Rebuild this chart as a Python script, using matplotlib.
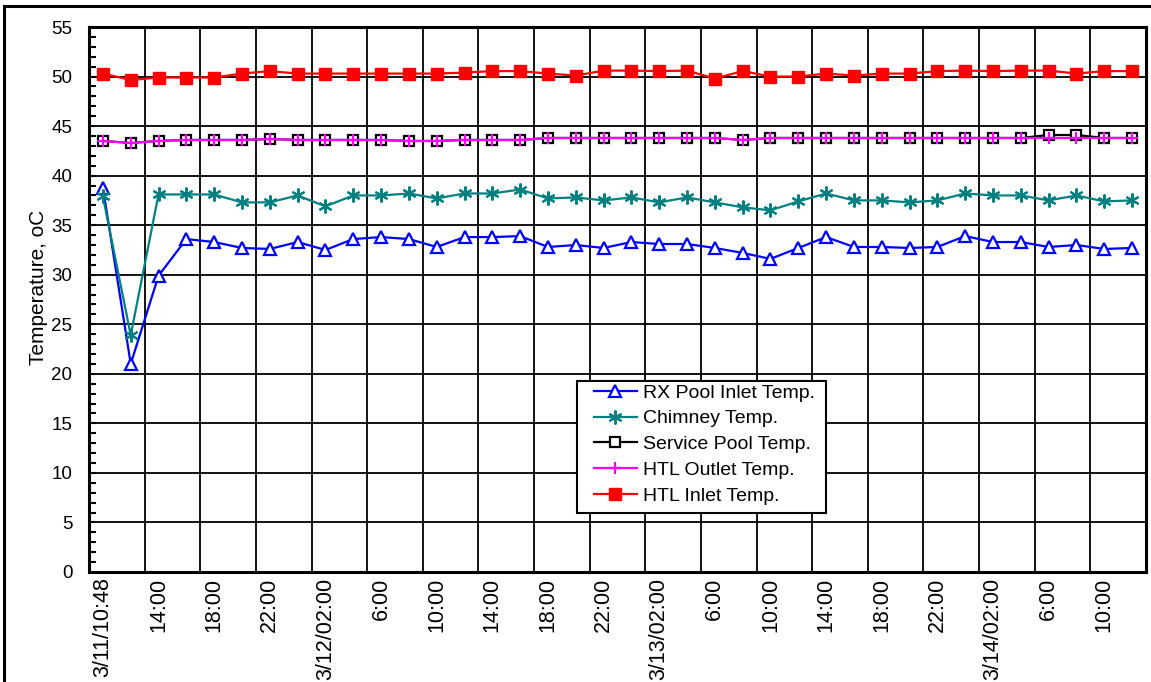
import matplotlib
matplotlib.use("Agg")
import matplotlib.pyplot as plt
from matplotlib.lines import Line2D
from matplotlib.patches import Rectangle
import numpy as np

plt.rcParams['font.family'] = ['Liberation Sans', 'DejaVu Sans']

tick_labels = ["3/11/10:48", "14:00", "18:00", "22:00", "3/12/02:00", "6:00", "10:00",
               "14:00", "18:00", "22:00", "3/13/02:00", "6:00", "10:00", "14:00",
               "18:00", "22:00", "3/14/02:00", "6:00", "10:00"]

rx_pool = [38.8, 21.0, 29.9, 33.6, 33.3, 32.7, 32.6, 33.3, 32.5, 33.6, 33.8, 33.6, 32.8,
           33.8, 33.8, 33.9, 32.8, 33.0, 32.7, 33.3, 33.1, 33.1, 32.7, 32.2, 31.6, 32.7, 33.8,
           32.8, 32.8, 32.7, 32.8, 33.9, 33.3, 33.3, 32.8, 33.0, 32.6, 32.7]
chimney = [37.9, 23.9, 38.1, 38.1, 38.1, 37.3, 37.3, 38.0, 36.9, 38.0, 38.0, 38.2, 37.7,
           38.2, 38.2, 38.6, 37.7, 37.8, 37.5, 37.8, 37.3, 37.8, 37.3, 36.8, 36.5, 37.4, 38.2,
           37.5, 37.5, 37.3, 37.5, 38.2, 38.0, 38.0, 37.5, 38.0, 37.4, 37.5]
service_pool = [43.5, 43.3, 43.5, 43.6, 43.6, 43.6, 43.7, 43.6, 43.6, 43.6, 43.6, 43.5, 43.5,
                43.6, 43.6, 43.6, 43.8, 43.8, 43.8, 43.8, 43.8, 43.8, 43.8, 43.6, 43.8, 43.8, 43.8,
                43.8, 43.8, 43.8, 43.8, 43.8, 43.8, 43.8, 44.1, 44.1, 43.8, 43.8]
htl_outlet = [43.5, 43.3, 43.5, 43.6, 43.6, 43.6, 43.7, 43.6, 43.6, 43.6, 43.6, 43.5, 43.5,
              43.6, 43.6, 43.6, 43.8, 43.8, 43.8, 43.8, 43.8, 43.8, 43.8, 43.6, 43.8, 43.8, 43.8,
              43.8, 43.8, 43.8, 43.8, 43.8, 43.8, 43.8, 43.8, 43.8, 43.8, 43.8]
htl_inlet = [50.3, 49.65, 49.9, 49.9, 49.9, 50.3, 50.55, 50.3, 50.3, 50.3, 50.3, 50.3, 50.3,
             50.4, 50.55, 50.55, 50.3, 50.1, 50.6, 50.6, 50.55, 50.6, 49.8, 50.55, 50.0, 50.0, 50.3,
             50.1, 50.3, 50.3, 50.55, 50.6, 50.55, 50.6, 50.6, 50.3, 50.55, 50.55]

W, H = 1151, 682
fig = plt.figure(figsize=(W / 100, H / 100), dpi=100)
ax = fig.add_axes([89 / W, 1 - 572 / H, (1146 - 89) / W, (572 - 27) / H])

n = len(rx_pool)
x = np.arange(n) + 0.5

ax.plot(x, rx_pool, color='#0000FF', lw=1.6, marker='^', ms=8.5, mfc='white', mec='#0000FF',
        mew=1.6, label='RX Pool Inlet Temp.', zorder=3)
ax.plot(x, chimney, color='#008080', lw=1.6, marker=(6, 2, 0), ms=10, mec='#008080',
        mew=1.5, label='Chimney Temp.', zorder=3)
ax.plot(x, service_pool, color='black', lw=1.6, marker='s', ms=7, mfc='white', mec='black',
        mew=1.6, label='Service Pool Temp.', zorder=3)
ax.plot(x, htl_outlet, color='#FF00FF', lw=1.6, marker='+', ms=9, mec='#FF00FF',
        mew=1.6, label='HTL Outlet Temp.', zorder=4)
ax.plot(x, htl_inlet, color='#FF0000', lw=1.6, marker='s', ms=8.5, mfc='#FF0000', mec='#FF0000',
        label='HTL Inlet Temp.', zorder=5)

ax.set_xlim(0, n)
ax.set_ylim(0, 55)

# y axis
ax.set_yticks(np.arange(0, 56, 5))
ax.set_yticks(np.arange(0, 56, 1), minor=True)
ax.tick_params(axis='y', which='major', direction='in', length=5, width=1.5, labelsize=13.5, pad=12)
ax.tick_params(axis='y', which='minor', direction='in', length=5, width=1.5)
ax.grid(axis='y', which='major', color='black', lw=1.3)

# x axis: labels at every second category, gridlines between category pairs
ax.set_xticks(x[::2])
ax.set_xticklabels(tick_labels, rotation=90, fontsize=15.5)
ax.tick_params(axis='x', which='major', length=0, pad=4)
for g in np.arange(2, n, 2):
    ax.axvline(g, color='black', lw=1.3, zorder=1)

for s in ax.spines.values():
    s.set_linewidth(2.2)
    s.set_color('black')

fig.text(39 / W, 1 - 287 / H, 'Temperature, oC', rotation=90, ha='center', va='center',
         fontsize=15)

# legend box
fig.add_artist(Rectangle((577 / W, 1 - 513 / H), (826 - 577) / W, (513 - 381) / H,
                         transform=fig.transFigure, facecolor='white', edgecolor='black',
                         lw=1.5, zorder=6))
leg = ax.legend(loc='upper left', bbox_to_anchor=(594 / W, 1 - 384 / H),
                bbox_transform=fig.transFigure, borderaxespad=0, borderpad=0, fontsize=14,
                numpoints=1, handlelength=2.2, handletextpad=0.3, labelspacing=0.42,
                frameon=False)
leg.set_zorder(7)
fig.add_artist(leg)

# outer frame of the figure (left and top edges visible)
fig.add_artist(Line2D([4 / W, 4 / W], [0, 1 - 6 / H], transform=fig.transFigure,
                      color='black', lw=2.2))
fig.add_artist(Line2D([4 / W, 1], [1 - 6 / H, 1 - 6 / H], transform=fig.transFigure,
                      color='black', lw=2.2))

fig.savefig('out.png', dpi=100)
